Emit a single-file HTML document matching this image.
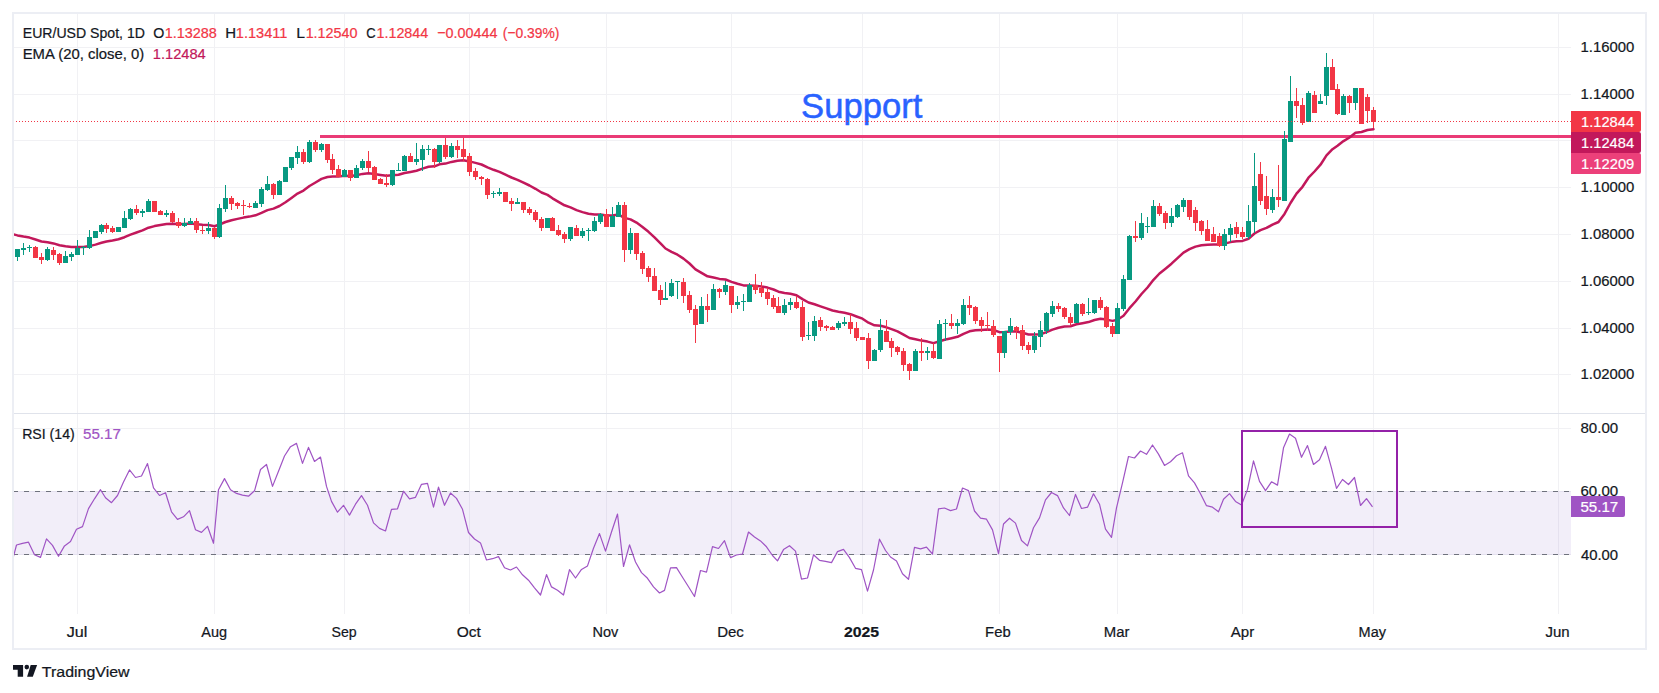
<!DOCTYPE html><html><head><meta charset="utf-8"><title>EUR/USD chart</title><style>html,body{margin:0;padding:0;background:#fff}svg{display:block}</style></head><body><svg width="1659" height="693" viewBox="0 0 1659 693" font-family='"Liberation Sans", sans-serif'>
<rect width="1659" height="693" fill="#fff"/>
<g shape-rendering="crispEdges"><rect x="77" y="14" width="1" height="600" fill="#f1f1f4"/><rect x="214" y="14" width="1" height="600" fill="#f1f1f4"/><rect x="344" y="14" width="1" height="600" fill="#f1f1f4"/><rect x="469" y="14" width="1" height="600" fill="#f1f1f4"/><rect x="606" y="14" width="1" height="600" fill="#f1f1f4"/><rect x="731" y="14" width="1" height="600" fill="#f1f1f4"/><rect x="862" y="14" width="1" height="600" fill="#f1f1f4"/><rect x="999" y="14" width="1" height="600" fill="#f1f1f4"/><rect x="1117" y="14" width="1" height="600" fill="#f1f1f4"/><rect x="1242" y="14" width="1" height="600" fill="#f1f1f4"/><rect x="1373" y="14" width="1" height="600" fill="#f1f1f4"/><rect x="1558" y="14" width="1" height="600" fill="#f1f1f4"/><rect x="14" y="47" width="1557" height="1" fill="#f1f1f4"/><rect x="14" y="94" width="1557" height="1" fill="#f1f1f4"/><rect x="14" y="140" width="1557" height="1" fill="#f1f1f4"/><rect x="14" y="187" width="1557" height="1" fill="#f1f1f4"/><rect x="14" y="234" width="1557" height="1" fill="#f1f1f4"/><rect x="14" y="281" width="1557" height="1" fill="#f1f1f4"/><rect x="14" y="328" width="1557" height="1" fill="#f1f1f4"/><rect x="14" y="374" width="1557" height="1" fill="#f1f1f4"/><rect x="14" y="428" width="1557" height="1" fill="#f1f1f4"/><rect x="14" y="491" width="1557" height="1" fill="#f1f1f4"/><rect x="14" y="554" width="1557" height="1" fill="#f1f1f4"/></g>
<rect x="14" y="491" width="1557" height="64" fill="#7e57c2" fill-opacity="0.1"/>
 <line x1="13" y1="491.5" x2="1571" y2="491.5" stroke="#6f727d" stroke-width="1" stroke-dasharray="5 6" shape-rendering="crispEdges"/>
 <line x1="13" y1="554.5" x2="1571" y2="554.5" stroke="#6f727d" stroke-width="1" stroke-dasharray="5 6" shape-rendering="crispEdges"/>
<rect x="14" y="413" width="1631" height="1" fill="#e0e3eb" shape-rendering="crispEdges"/>
<defs><clipPath id="cp"><rect x="14" y="14" width="1557" height="600"/></clipPath></defs>
<g clip-path="url(#cp)">
<rect x="320" y="135" width="1251" height="3" fill="#ea3b76"/>
<polyline fill="none" stroke="#c2185b" stroke-width="2.5" stroke-linejoin="round" stroke-linecap="round" points="11.5,234.0 17.5,235.4 23.5,236.6 29.5,237.6 35.5,239.5 41.5,241.5 47.5,242.2 53.5,243.4 59.5,245.2 65.5,246.3 71.5,247.0 77.5,247.1 83.5,247.0 89.5,246.1 95.5,244.6 101.5,242.8 106.5,241.5 112.5,240.5 118.5,239.2 124.5,237.2 130.5,234.6 136.5,232.5 142.5,230.4 148.5,227.7 154.5,226.1 160.5,225.1 166.5,224.0 172.5,223.8 178.5,224.0 184.5,223.9 190.5,223.6 196.5,224.2 202.5,224.8 208.5,225.1 214.5,226.2 219.5,224.5 225.5,222.0 231.5,220.2 237.5,218.9 243.5,217.6 249.5,216.6 255.5,215.3 261.5,212.8 267.5,210.1 273.5,208.6 279.5,206.0 285.5,202.3 291.5,198.0 297.5,193.6 303.5,190.6 309.5,186.0 315.5,182.5 321.5,178.9 327.5,177.0 332.5,176.4 338.5,176.4 344.5,175.8 350.5,176.0 356.5,175.2 362.5,173.9 368.5,173.3 374.5,173.9 380.5,174.9 386.5,175.8 392.5,175.2 398.5,174.8 404.5,173.0 410.5,171.9 416.5,170.7 422.5,168.6 428.5,166.8 434.5,166.3 439.5,164.3 445.5,163.6 451.5,161.9 457.5,160.7 463.5,160.3 469.5,161.4 475.5,162.9 481.5,164.5 487.5,167.4 493.5,169.8 499.5,171.9 505.5,174.7 511.5,177.5 517.5,179.8 523.5,182.7 529.5,185.5 535.5,188.8 541.5,192.5 547.5,194.9 552.5,198.3 558.5,201.8 564.5,205.3 570.5,207.4 576.5,210.1 582.5,212.1 588.5,213.8 594.5,214.5 600.5,214.4 606.5,215.6 612.5,215.6 618.5,214.6 624.5,217.9 630.5,219.4 636.5,222.6 642.5,227.0 648.5,231.8 654.5,237.4 660.5,243.3 665.5,248.5 671.5,251.8 677.5,254.7 683.5,258.6 689.5,263.5 695.5,269.3 701.5,272.8 707.5,276.3 713.5,277.5 719.5,278.9 725.5,279.5 731.5,281.9 737.5,283.8 743.5,285.4 749.5,285.4 755.5,285.8 761.5,286.5 767.5,287.6 773.5,289.5 778.5,291.7 784.5,293.0 790.5,293.8 796.5,295.2 802.5,299.1 808.5,302.5 814.5,304.3 820.5,306.4 826.5,308.4 832.5,310.5 838.5,311.7 844.5,312.7 850.5,314.2 856.5,316.5 862.5,318.7 868.5,322.7 874.5,325.3 880.5,325.7 886.5,327.3 891.5,329.2 897.5,331.4 903.5,334.6 909.5,338.0 915.5,339.3 921.5,340.6 927.5,341.6 933.5,343.1 939.5,341.3 945.5,339.5 951.5,338.2 957.5,336.8 963.5,333.8 969.5,331.3 975.5,330.3 981.5,329.9 987.5,329.5 993.5,330.0 999.5,332.2 1004.5,332.1 1010.5,331.5 1016.5,331.5 1022.5,332.8 1028.5,334.5 1034.5,334.6 1040.5,334.2 1046.5,332.1 1052.5,329.6 1058.5,327.7 1064.5,326.6 1070.5,326.3 1076.5,324.2 1082.5,323.2 1088.5,322.1 1094.5,320.0 1100.5,318.8 1106.5,319.6 1112.5,320.9 1117.5,319.7 1123.5,315.8 1129.5,308.2 1135.5,301.5 1141.5,294.0 1147.5,287.5 1153.5,279.8 1159.5,273.5 1165.5,268.7 1171.5,263.7 1177.5,258.1 1183.5,252.6 1189.5,249.2 1195.5,246.6 1201.5,245.2 1207.5,244.7 1213.5,244.5 1219.5,244.6 1224.5,243.6 1230.5,242.1 1236.5,241.3 1242.5,240.9 1248.5,238.8 1254.5,233.5 1260.5,230.2 1266.5,227.9 1272.5,224.7 1278.5,222.0 1284.5,213.9 1290.5,203.0 1296.5,193.6 1302.5,186.8 1308.5,177.7 1314.5,171.5 1320.5,164.7 1326.5,155.4 1332.5,149.2 1337.5,145.8 1343.5,141.1 1349.5,137.5 1355.5,132.8 1361.5,132.0 1367.5,130.0 1373.5,129.2"/>
<g shape-rendering="crispEdges"><rect x="11" y="249" width="1" height="8" fill="#f23645"/><rect x="9" y="249" width="5" height="8" fill="#f23645"/><rect x="17" y="249" width="1" height="12" fill="#089981"/><rect x="15" y="249" width="5" height="8" fill="#089981"/><rect x="23" y="243" width="1" height="12" fill="#089981"/><rect x="21" y="248" width="5" height="2" fill="#089981"/><rect x="29" y="245" width="1" height="7" fill="#089981"/><rect x="27" y="247" width="5" height="1" fill="#089981"/><rect x="35" y="246" width="1" height="12" fill="#f23645"/><rect x="33" y="247" width="5" height="11" fill="#f23645"/><rect x="41" y="253" width="1" height="11" fill="#f23645"/><rect x="39" y="257" width="5" height="3" fill="#f23645"/><rect x="47" y="247" width="1" height="14" fill="#089981"/><rect x="45" y="249" width="5" height="11" fill="#089981"/><rect x="53" y="247" width="1" height="13" fill="#f23645"/><rect x="51" y="250" width="5" height="5" fill="#f23645"/><rect x="59" y="253" width="1" height="12" fill="#f23645"/><rect x="57" y="254" width="5" height="9" fill="#f23645"/><rect x="65" y="251" width="1" height="12" fill="#089981"/><rect x="63" y="256" width="5" height="7" fill="#089981"/><rect x="71" y="252" width="1" height="9" fill="#089981"/><rect x="69" y="254" width="5" height="3" fill="#089981"/><rect x="77" y="240" width="1" height="15" fill="#089981"/><rect x="75" y="248" width="5" height="7" fill="#089981"/><rect x="83" y="246" width="1" height="9" fill="#089981"/><rect x="81" y="247" width="5" height="1" fill="#089981"/><rect x="89" y="230" width="1" height="19" fill="#089981"/><rect x="87" y="237" width="5" height="11" fill="#089981"/><rect x="95" y="231" width="1" height="7" fill="#089981"/><rect x="93" y="231" width="5" height="7" fill="#089981"/><rect x="101" y="224" width="1" height="10" fill="#089981"/><rect x="99" y="225" width="5" height="7" fill="#089981"/><rect x="106" y="223" width="1" height="10" fill="#f23645"/><rect x="104" y="225" width="5" height="4" fill="#f23645"/><rect x="112" y="226" width="1" height="7" fill="#f23645"/><rect x="110" y="228" width="5" height="4" fill="#f23645"/><rect x="118" y="227" width="1" height="5" fill="#089981"/><rect x="116" y="227" width="5" height="5" fill="#089981"/><rect x="124" y="211" width="1" height="17" fill="#089981"/><rect x="122" y="218" width="5" height="10" fill="#089981"/><rect x="130" y="208" width="1" height="12" fill="#089981"/><rect x="128" y="209" width="5" height="10" fill="#089981"/><rect x="136" y="205" width="1" height="10" fill="#f23645"/><rect x="134" y="209" width="5" height="4" fill="#f23645"/><rect x="142" y="209" width="1" height="8" fill="#089981"/><rect x="140" y="211" width="5" height="2" fill="#089981"/><rect x="148" y="199" width="1" height="13" fill="#089981"/><rect x="146" y="201" width="5" height="11" fill="#089981"/><rect x="154" y="201" width="1" height="11" fill="#f23645"/><rect x="152" y="201" width="5" height="11" fill="#f23645"/><rect x="160" y="210" width="1" height="5" fill="#f23645"/><rect x="158" y="211" width="5" height="4" fill="#f23645"/><rect x="166" y="210" width="1" height="7" fill="#089981"/><rect x="164" y="213" width="5" height="2" fill="#089981"/><rect x="172" y="211" width="1" height="12" fill="#f23645"/><rect x="170" y="213" width="5" height="9" fill="#f23645"/><rect x="178" y="218" width="1" height="10" fill="#f23645"/><rect x="176" y="222" width="5" height="4" fill="#f23645"/><rect x="184" y="218" width="1" height="9" fill="#089981"/><rect x="182" y="223" width="5" height="3" fill="#089981"/><rect x="190" y="218" width="1" height="6" fill="#089981"/><rect x="188" y="221" width="5" height="3" fill="#089981"/><rect x="196" y="218" width="1" height="15" fill="#f23645"/><rect x="194" y="221" width="5" height="9" fill="#f23645"/><rect x="202" y="226" width="1" height="8" fill="#f23645"/><rect x="200" y="230" width="5" height="1" fill="#f23645"/><rect x="208" y="222" width="1" height="12" fill="#089981"/><rect x="206" y="228" width="5" height="3" fill="#089981"/><rect x="214" y="227" width="1" height="12" fill="#f23645"/><rect x="212" y="228" width="5" height="9" fill="#f23645"/><rect x="219" y="204" width="1" height="34" fill="#089981"/><rect x="217" y="208" width="5" height="29" fill="#089981"/><rect x="225" y="185" width="1" height="27" fill="#089981"/><rect x="223" y="198" width="5" height="11" fill="#089981"/><rect x="231" y="196" width="1" height="14" fill="#f23645"/><rect x="229" y="198" width="5" height="6" fill="#f23645"/><rect x="237" y="202" width="1" height="7" fill="#f23645"/><rect x="235" y="203" width="5" height="3" fill="#f23645"/><rect x="243" y="200" width="1" height="15" fill="#f23645"/><rect x="241" y="205" width="5" height="1" fill="#f23645"/><rect x="249" y="203" width="1" height="5" fill="#f23645"/><rect x="247" y="206" width="5" height="1" fill="#f23645"/><rect x="255" y="201" width="1" height="7" fill="#089981"/><rect x="253" y="203" width="5" height="5" fill="#089981"/><rect x="261" y="187" width="1" height="20" fill="#089981"/><rect x="259" y="189" width="5" height="15" fill="#089981"/><rect x="267" y="176" width="1" height="15" fill="#089981"/><rect x="265" y="184" width="5" height="6" fill="#089981"/><rect x="273" y="183" width="1" height="16" fill="#f23645"/><rect x="271" y="184" width="5" height="11" fill="#f23645"/><rect x="279" y="180" width="1" height="15" fill="#089981"/><rect x="277" y="181" width="5" height="14" fill="#089981"/><rect x="285" y="167" width="1" height="15" fill="#089981"/><rect x="283" y="167" width="5" height="15" fill="#089981"/><rect x="291" y="157" width="1" height="13" fill="#089981"/><rect x="289" y="157" width="5" height="11" fill="#089981"/><rect x="297" y="146" width="1" height="18" fill="#089981"/><rect x="295" y="152" width="5" height="6" fill="#089981"/><rect x="303" y="149" width="1" height="15" fill="#f23645"/><rect x="301" y="152" width="5" height="10" fill="#f23645"/><rect x="309" y="140" width="1" height="23" fill="#089981"/><rect x="307" y="142" width="5" height="20" fill="#089981"/><rect x="315" y="140" width="1" height="12" fill="#f23645"/><rect x="313" y="142" width="5" height="8" fill="#f23645"/><rect x="321" y="143" width="1" height="9" fill="#089981"/><rect x="319" y="144" width="5" height="6" fill="#089981"/><rect x="327" y="144" width="1" height="19" fill="#f23645"/><rect x="325" y="144" width="5" height="16" fill="#f23645"/><rect x="332" y="154" width="1" height="20" fill="#f23645"/><rect x="330" y="159" width="5" height="11" fill="#f23645"/><rect x="338" y="165" width="1" height="12" fill="#f23645"/><rect x="336" y="169" width="5" height="8" fill="#f23645"/><rect x="344" y="169" width="1" height="8" fill="#089981"/><rect x="342" y="170" width="5" height="7" fill="#089981"/><rect x="350" y="170" width="1" height="11" fill="#f23645"/><rect x="348" y="170" width="5" height="8" fill="#f23645"/><rect x="356" y="165" width="1" height="13" fill="#089981"/><rect x="354" y="168" width="5" height="10" fill="#089981"/><rect x="362" y="159" width="1" height="11" fill="#089981"/><rect x="360" y="161" width="5" height="7" fill="#089981"/><rect x="368" y="151" width="1" height="21" fill="#f23645"/><rect x="366" y="161" width="5" height="7" fill="#f23645"/><rect x="374" y="166" width="1" height="14" fill="#f23645"/><rect x="372" y="167" width="5" height="13" fill="#f23645"/><rect x="380" y="178" width="1" height="6" fill="#f23645"/><rect x="378" y="179" width="5" height="5" fill="#f23645"/><rect x="386" y="174" width="1" height="13" fill="#f23645"/><rect x="384" y="183" width="5" height="2" fill="#f23645"/><rect x="392" y="170" width="1" height="16" fill="#089981"/><rect x="390" y="170" width="5" height="15" fill="#089981"/><rect x="398" y="163" width="1" height="8" fill="#089981"/><rect x="396" y="170" width="5" height="1" fill="#089981"/><rect x="404" y="155" width="1" height="16" fill="#089981"/><rect x="402" y="156" width="5" height="15" fill="#089981"/><rect x="410" y="153" width="1" height="9" fill="#f23645"/><rect x="408" y="156" width="5" height="6" fill="#f23645"/><rect x="416" y="143" width="1" height="22" fill="#089981"/><rect x="414" y="159" width="5" height="3" fill="#089981"/><rect x="422" y="145" width="1" height="26" fill="#089981"/><rect x="420" y="149" width="5" height="11" fill="#089981"/><rect x="428" y="145" width="1" height="10" fill="#089981"/><rect x="426" y="149" width="5" height="1" fill="#089981"/><rect x="434" y="148" width="1" height="20" fill="#f23645"/><rect x="432" y="149" width="5" height="13" fill="#f23645"/><rect x="439" y="145" width="1" height="18" fill="#089981"/><rect x="437" y="145" width="5" height="17" fill="#089981"/><rect x="445" y="138" width="1" height="21" fill="#f23645"/><rect x="443" y="145" width="5" height="12" fill="#f23645"/><rect x="451" y="143" width="1" height="15" fill="#089981"/><rect x="449" y="146" width="5" height="11" fill="#089981"/><rect x="457" y="140" width="1" height="18" fill="#f23645"/><rect x="455" y="146" width="5" height="4" fill="#f23645"/><rect x="463" y="138" width="1" height="23" fill="#f23645"/><rect x="461" y="149" width="5" height="8" fill="#f23645"/><rect x="469" y="153" width="1" height="23" fill="#f23645"/><rect x="467" y="156" width="5" height="16" fill="#f23645"/><rect x="475" y="168" width="1" height="12" fill="#f23645"/><rect x="473" y="171" width="5" height="6" fill="#f23645"/><rect x="481" y="176" width="1" height="9" fill="#f23645"/><rect x="479" y="177" width="5" height="2" fill="#f23645"/><rect x="487" y="178" width="1" height="21" fill="#f23645"/><rect x="485" y="179" width="5" height="16" fill="#f23645"/><rect x="493" y="191" width="1" height="7" fill="#089981"/><rect x="491" y="193" width="5" height="1" fill="#089981"/><rect x="499" y="188" width="1" height="8" fill="#089981"/><rect x="497" y="192" width="5" height="2" fill="#089981"/><rect x="505" y="192" width="1" height="10" fill="#f23645"/><rect x="503" y="192" width="5" height="10" fill="#f23645"/><rect x="511" y="198" width="1" height="13" fill="#f23645"/><rect x="509" y="201" width="5" height="3" fill="#f23645"/><rect x="517" y="198" width="1" height="6" fill="#089981"/><rect x="515" y="202" width="5" height="2" fill="#089981"/><rect x="523" y="202" width="1" height="11" fill="#f23645"/><rect x="521" y="202" width="5" height="8" fill="#f23645"/><rect x="529" y="207" width="1" height="8" fill="#f23645"/><rect x="527" y="209" width="5" height="4" fill="#f23645"/><rect x="535" y="210" width="1" height="12" fill="#f23645"/><rect x="533" y="212" width="5" height="8" fill="#f23645"/><rect x="541" y="217" width="1" height="14" fill="#f23645"/><rect x="539" y="219" width="5" height="9" fill="#f23645"/><rect x="547" y="218" width="1" height="10" fill="#089981"/><rect x="545" y="218" width="5" height="10" fill="#089981"/><rect x="552" y="217" width="1" height="14" fill="#f23645"/><rect x="550" y="218" width="5" height="13" fill="#f23645"/><rect x="558" y="225" width="1" height="11" fill="#f23645"/><rect x="556" y="230" width="5" height="5" fill="#f23645"/><rect x="564" y="232" width="1" height="11" fill="#f23645"/><rect x="562" y="234" width="5" height="5" fill="#f23645"/><rect x="570" y="227" width="1" height="14" fill="#089981"/><rect x="568" y="227" width="5" height="12" fill="#089981"/><rect x="576" y="225" width="1" height="11" fill="#f23645"/><rect x="574" y="228" width="5" height="8" fill="#f23645"/><rect x="582" y="228" width="1" height="10" fill="#089981"/><rect x="580" y="231" width="5" height="5" fill="#089981"/><rect x="588" y="228" width="1" height="13" fill="#089981"/><rect x="586" y="230" width="5" height="1" fill="#089981"/><rect x="594" y="217" width="1" height="15" fill="#089981"/><rect x="592" y="221" width="5" height="10" fill="#089981"/><rect x="600" y="213" width="1" height="11" fill="#089981"/><rect x="598" y="214" width="5" height="8" fill="#089981"/><rect x="606" y="209" width="1" height="18" fill="#f23645"/><rect x="604" y="214" width="5" height="13" fill="#f23645"/><rect x="612" y="207" width="1" height="20" fill="#089981"/><rect x="610" y="216" width="5" height="11" fill="#089981"/><rect x="618" y="202" width="1" height="15" fill="#089981"/><rect x="616" y="205" width="5" height="12" fill="#089981"/><rect x="624" y="202" width="1" height="60" fill="#f23645"/><rect x="622" y="205" width="5" height="45" fill="#f23645"/><rect x="630" y="228" width="1" height="26" fill="#089981"/><rect x="628" y="233" width="5" height="17" fill="#089981"/><rect x="636" y="233" width="1" height="27" fill="#f23645"/><rect x="634" y="233" width="5" height="21" fill="#f23645"/><rect x="642" y="251" width="1" height="23" fill="#f23645"/><rect x="640" y="253" width="5" height="16" fill="#f23645"/><rect x="648" y="266" width="1" height="16" fill="#f23645"/><rect x="646" y="268" width="5" height="9" fill="#f23645"/><rect x="654" y="268" width="1" height="23" fill="#f23645"/><rect x="652" y="276" width="5" height="15" fill="#f23645"/><rect x="660" y="285" width="1" height="20" fill="#f23645"/><rect x="658" y="290" width="5" height="10" fill="#f23645"/><rect x="665" y="282" width="1" height="18" fill="#089981"/><rect x="663" y="298" width="5" height="2" fill="#089981"/><rect x="671" y="279" width="1" height="18" fill="#089981"/><rect x="669" y="283" width="5" height="13" fill="#089981"/><rect x="677" y="281" width="1" height="18" fill="#089981"/><rect x="675" y="281" width="5" height="1" fill="#089981"/><rect x="683" y="278" width="1" height="25" fill="#f23645"/><rect x="681" y="282" width="5" height="14" fill="#f23645"/><rect x="689" y="291" width="1" height="22" fill="#f23645"/><rect x="687" y="295" width="5" height="15" fill="#f23645"/><rect x="695" y="305" width="1" height="38" fill="#f23645"/><rect x="693" y="309" width="5" height="16" fill="#f23645"/><rect x="701" y="297" width="1" height="27" fill="#089981"/><rect x="699" y="306" width="5" height="18" fill="#089981"/><rect x="707" y="294" width="1" height="28" fill="#f23645"/><rect x="705" y="306" width="5" height="4" fill="#f23645"/><rect x="713" y="284" width="1" height="26" fill="#089981"/><rect x="711" y="289" width="5" height="21" fill="#089981"/><rect x="719" y="288" width="1" height="10" fill="#f23645"/><rect x="717" y="289" width="5" height="3" fill="#f23645"/><rect x="725" y="281" width="1" height="14" fill="#089981"/><rect x="723" y="285" width="5" height="7" fill="#089981"/><rect x="731" y="286" width="1" height="27" fill="#f23645"/><rect x="729" y="286" width="5" height="19" fill="#f23645"/><rect x="737" y="296" width="1" height="13" fill="#089981"/><rect x="735" y="302" width="5" height="3" fill="#089981"/><rect x="743" y="294" width="1" height="17" fill="#089981"/><rect x="741" y="301" width="5" height="1" fill="#089981"/><rect x="749" y="283" width="1" height="19" fill="#089981"/><rect x="747" y="285" width="5" height="17" fill="#089981"/><rect x="755" y="274" width="1" height="20" fill="#f23645"/><rect x="753" y="285" width="5" height="5" fill="#f23645"/><rect x="761" y="282" width="1" height="15" fill="#f23645"/><rect x="759" y="288" width="5" height="5" fill="#f23645"/><rect x="767" y="288" width="1" height="17" fill="#f23645"/><rect x="765" y="292" width="5" height="7" fill="#f23645"/><rect x="773" y="295" width="1" height="14" fill="#f23645"/><rect x="771" y="298" width="5" height="9" fill="#f23645"/><rect x="778" y="297" width="1" height="16" fill="#f23645"/><rect x="776" y="306" width="5" height="7" fill="#f23645"/><rect x="784" y="299" width="1" height="16" fill="#089981"/><rect x="782" y="305" width="5" height="8" fill="#089981"/><rect x="790" y="298" width="1" height="12" fill="#089981"/><rect x="788" y="302" width="5" height="3" fill="#089981"/><rect x="796" y="296" width="1" height="13" fill="#f23645"/><rect x="794" y="302" width="5" height="6" fill="#f23645"/><rect x="802" y="301" width="1" height="40" fill="#f23645"/><rect x="800" y="307" width="5" height="30" fill="#f23645"/><rect x="808" y="322" width="1" height="18" fill="#089981"/><rect x="806" y="335" width="5" height="1" fill="#089981"/><rect x="814" y="316" width="1" height="25" fill="#089981"/><rect x="812" y="321" width="5" height="15" fill="#089981"/><rect x="820" y="317" width="1" height="14" fill="#f23645"/><rect x="818" y="320" width="5" height="7" fill="#f23645"/><rect x="826" y="325" width="1" height="6" fill="#f23645"/><rect x="824" y="326" width="5" height="2" fill="#f23645"/><rect x="832" y="326" width="1" height="4" fill="#f23645"/><rect x="830" y="327" width="5" height="3" fill="#f23645"/><rect x="838" y="321" width="1" height="9" fill="#089981"/><rect x="836" y="323" width="5" height="5" fill="#089981"/><rect x="844" y="317" width="1" height="9" fill="#089981"/><rect x="842" y="322" width="5" height="2" fill="#089981"/><rect x="850" y="314" width="1" height="20" fill="#f23645"/><rect x="848" y="322" width="5" height="7" fill="#f23645"/><rect x="856" y="322" width="1" height="19" fill="#f23645"/><rect x="854" y="328" width="5" height="10" fill="#f23645"/><rect x="862" y="337" width="1" height="3" fill="#f23645"/><rect x="860" y="337" width="5" height="3" fill="#f23645"/><rect x="868" y="333" width="1" height="36" fill="#f23645"/><rect x="866" y="338" width="5" height="23" fill="#f23645"/><rect x="874" y="349" width="1" height="12" fill="#089981"/><rect x="872" y="350" width="5" height="11" fill="#089981"/><rect x="880" y="319" width="1" height="33" fill="#089981"/><rect x="878" y="330" width="5" height="20" fill="#089981"/><rect x="886" y="320" width="1" height="22" fill="#f23645"/><rect x="884" y="331" width="5" height="11" fill="#f23645"/><rect x="891" y="338" width="1" height="19" fill="#f23645"/><rect x="889" y="341" width="5" height="7" fill="#f23645"/><rect x="897" y="346" width="1" height="9" fill="#f23645"/><rect x="895" y="347" width="5" height="5" fill="#f23645"/><rect x="903" y="348" width="1" height="23" fill="#f23645"/><rect x="901" y="351" width="5" height="14" fill="#f23645"/><rect x="909" y="363" width="1" height="17" fill="#f23645"/><rect x="907" y="364" width="5" height="7" fill="#f23645"/><rect x="915" y="349" width="1" height="22" fill="#089981"/><rect x="913" y="351" width="5" height="20" fill="#089981"/><rect x="921" y="338" width="1" height="23" fill="#f23645"/><rect x="919" y="351" width="5" height="2" fill="#f23645"/><rect x="927" y="347" width="1" height="13" fill="#089981"/><rect x="925" y="351" width="5" height="2" fill="#089981"/><rect x="933" y="343" width="1" height="16" fill="#f23645"/><rect x="931" y="351" width="5" height="7" fill="#f23645"/><rect x="939" y="320" width="1" height="39" fill="#089981"/><rect x="937" y="324" width="5" height="35" fill="#089981"/><rect x="945" y="319" width="1" height="22" fill="#089981"/><rect x="943" y="323" width="5" height="1" fill="#089981"/><rect x="951" y="314" width="1" height="15" fill="#f23645"/><rect x="949" y="323" width="5" height="3" fill="#f23645"/><rect x="957" y="319" width="1" height="15" fill="#089981"/><rect x="955" y="323" width="5" height="3" fill="#089981"/><rect x="963" y="299" width="1" height="26" fill="#089981"/><rect x="961" y="305" width="5" height="19" fill="#089981"/><rect x="969" y="296" width="1" height="19" fill="#f23645"/><rect x="967" y="305" width="5" height="3" fill="#f23645"/><rect x="975" y="306" width="1" height="18" fill="#f23645"/><rect x="973" y="307" width="5" height="14" fill="#f23645"/><rect x="981" y="317" width="1" height="15" fill="#f23645"/><rect x="979" y="320" width="5" height="6" fill="#f23645"/><rect x="987" y="312" width="1" height="19" fill="#f23645"/><rect x="985" y="325" width="5" height="1" fill="#f23645"/><rect x="993" y="320" width="1" height="17" fill="#f23645"/><rect x="991" y="326" width="5" height="9" fill="#f23645"/><rect x="999" y="336" width="1" height="36" fill="#f23645"/><rect x="997" y="336" width="5" height="17" fill="#f23645"/><rect x="1004" y="331" width="1" height="27" fill="#089981"/><rect x="1002" y="331" width="5" height="22" fill="#089981"/><rect x="1010" y="318" width="1" height="17" fill="#089981"/><rect x="1008" y="326" width="5" height="6" fill="#089981"/><rect x="1016" y="326" width="1" height="13" fill="#f23645"/><rect x="1014" y="327" width="5" height="4" fill="#f23645"/><rect x="1022" y="325" width="1" height="25" fill="#f23645"/><rect x="1020" y="330" width="5" height="16" fill="#f23645"/><rect x="1028" y="342" width="1" height="12" fill="#f23645"/><rect x="1026" y="345" width="5" height="5" fill="#f23645"/><rect x="1034" y="332" width="1" height="21" fill="#089981"/><rect x="1032" y="336" width="5" height="14" fill="#089981"/><rect x="1040" y="321" width="1" height="26" fill="#089981"/><rect x="1038" y="330" width="5" height="7" fill="#089981"/><rect x="1046" y="312" width="1" height="22" fill="#089981"/><rect x="1044" y="313" width="5" height="18" fill="#089981"/><rect x="1052" y="301" width="1" height="16" fill="#089981"/><rect x="1050" y="306" width="5" height="8" fill="#089981"/><rect x="1058" y="303" width="1" height="9" fill="#f23645"/><rect x="1056" y="306" width="5" height="3" fill="#f23645"/><rect x="1064" y="307" width="1" height="12" fill="#f23645"/><rect x="1062" y="308" width="5" height="9" fill="#f23645"/><rect x="1070" y="313" width="1" height="13" fill="#f23645"/><rect x="1068" y="317" width="5" height="6" fill="#f23645"/><rect x="1076" y="303" width="1" height="20" fill="#089981"/><rect x="1074" y="304" width="5" height="19" fill="#089981"/><rect x="1082" y="303" width="1" height="13" fill="#f23645"/><rect x="1080" y="304" width="5" height="10" fill="#f23645"/><rect x="1088" y="298" width="1" height="17" fill="#089981"/><rect x="1086" y="312" width="5" height="1" fill="#089981"/><rect x="1094" y="300" width="1" height="14" fill="#089981"/><rect x="1092" y="300" width="5" height="13" fill="#089981"/><rect x="1100" y="297" width="1" height="13" fill="#f23645"/><rect x="1098" y="300" width="5" height="8" fill="#f23645"/><rect x="1106" y="306" width="1" height="22" fill="#f23645"/><rect x="1104" y="307" width="5" height="20" fill="#f23645"/><rect x="1112" y="323" width="1" height="14" fill="#f23645"/><rect x="1110" y="326" width="5" height="8" fill="#f23645"/><rect x="1117" y="303" width="1" height="31" fill="#089981"/><rect x="1115" y="308" width="5" height="26" fill="#089981"/><rect x="1123" y="275" width="1" height="36" fill="#089981"/><rect x="1121" y="279" width="5" height="30" fill="#089981"/><rect x="1129" y="235" width="1" height="45" fill="#089981"/><rect x="1127" y="236" width="5" height="44" fill="#089981"/><rect x="1135" y="221" width="1" height="21" fill="#f23645"/><rect x="1133" y="236" width="5" height="2" fill="#f23645"/><rect x="1141" y="213" width="1" height="27" fill="#089981"/><rect x="1139" y="223" width="5" height="15" fill="#089981"/><rect x="1147" y="217" width="1" height="16" fill="#089981"/><rect x="1145" y="226" width="5" height="1" fill="#089981"/><rect x="1153" y="200" width="1" height="27" fill="#089981"/><rect x="1151" y="206" width="5" height="21" fill="#089981"/><rect x="1159" y="203" width="1" height="13" fill="#f23645"/><rect x="1157" y="206" width="5" height="8" fill="#f23645"/><rect x="1165" y="211" width="1" height="18" fill="#f23645"/><rect x="1163" y="213" width="5" height="10" fill="#f23645"/><rect x="1171" y="208" width="1" height="19" fill="#089981"/><rect x="1169" y="216" width="5" height="7" fill="#089981"/><rect x="1177" y="204" width="1" height="14" fill="#089981"/><rect x="1175" y="205" width="5" height="12" fill="#089981"/><rect x="1183" y="198" width="1" height="14" fill="#089981"/><rect x="1181" y="200" width="5" height="7" fill="#089981"/><rect x="1189" y="200" width="1" height="20" fill="#f23645"/><rect x="1187" y="200" width="5" height="17" fill="#f23645"/><rect x="1195" y="207" width="1" height="24" fill="#f23645"/><rect x="1193" y="210" width="5" height="13" fill="#f23645"/><rect x="1201" y="220" width="1" height="15" fill="#f23645"/><rect x="1199" y="221" width="5" height="10" fill="#f23645"/><rect x="1207" y="220" width="1" height="21" fill="#f23645"/><rect x="1205" y="229" width="5" height="12" fill="#f23645"/><rect x="1213" y="227" width="1" height="15" fill="#f23645"/><rect x="1211" y="234" width="5" height="8" fill="#f23645"/><rect x="1219" y="233" width="1" height="14" fill="#f23645"/><rect x="1217" y="236" width="5" height="10" fill="#f23645"/><rect x="1224" y="229" width="1" height="21" fill="#089981"/><rect x="1222" y="234" width="5" height="12" fill="#089981"/><rect x="1230" y="224" width="1" height="18" fill="#089981"/><rect x="1228" y="228" width="5" height="7" fill="#089981"/><rect x="1236" y="222" width="1" height="16" fill="#f23645"/><rect x="1234" y="227" width="5" height="7" fill="#f23645"/><rect x="1242" y="227" width="1" height="12" fill="#f23645"/><rect x="1240" y="232" width="5" height="5" fill="#f23645"/><rect x="1248" y="205" width="1" height="34" fill="#089981"/><rect x="1246" y="221" width="5" height="16" fill="#089981"/><rect x="1254" y="153" width="1" height="80" fill="#089981"/><rect x="1252" y="186" width="5" height="36" fill="#089981"/><rect x="1260" y="162" width="1" height="43" fill="#f23645"/><rect x="1258" y="174" width="5" height="27" fill="#f23645"/><rect x="1266" y="176" width="1" height="39" fill="#f23645"/><rect x="1264" y="196" width="5" height="13" fill="#f23645"/><rect x="1272" y="189" width="1" height="24" fill="#089981"/><rect x="1270" y="197" width="5" height="13" fill="#089981"/><rect x="1278" y="165" width="1" height="42" fill="#f23645"/><rect x="1276" y="197" width="5" height="3" fill="#f23645"/><rect x="1284" y="131" width="1" height="70" fill="#089981"/><rect x="1282" y="139" width="5" height="62" fill="#089981"/><rect x="1290" y="76" width="1" height="66" fill="#089981"/><rect x="1288" y="101" width="5" height="41" fill="#089981"/><rect x="1296" y="88" width="1" height="30" fill="#f23645"/><rect x="1294" y="101" width="5" height="5" fill="#f23645"/><rect x="1302" y="98" width="1" height="27" fill="#f23645"/><rect x="1300" y="105" width="5" height="18" fill="#f23645"/><rect x="1308" y="91" width="1" height="31" fill="#089981"/><rect x="1306" y="93" width="5" height="29" fill="#089981"/><rect x="1314" y="91" width="1" height="22" fill="#f23645"/><rect x="1312" y="95" width="5" height="18" fill="#f23645"/><rect x="1320" y="94" width="1" height="10" fill="#089981"/><rect x="1318" y="101" width="5" height="3" fill="#089981"/><rect x="1326" y="53" width="1" height="52" fill="#089981"/><rect x="1324" y="67" width="5" height="29" fill="#089981"/><rect x="1332" y="59" width="1" height="31" fill="#f23645"/><rect x="1330" y="67" width="5" height="23" fill="#f23645"/><rect x="1337" y="84" width="1" height="31" fill="#f23645"/><rect x="1335" y="89" width="5" height="25" fill="#f23645"/><rect x="1343" y="94" width="1" height="21" fill="#089981"/><rect x="1341" y="96" width="5" height="19" fill="#089981"/><rect x="1349" y="95" width="1" height="18" fill="#f23645"/><rect x="1347" y="96" width="5" height="7" fill="#f23645"/><rect x="1355" y="88" width="1" height="22" fill="#089981"/><rect x="1353" y="88" width="5" height="15" fill="#089981"/><rect x="1361" y="88" width="1" height="36" fill="#f23645"/><rect x="1359" y="88" width="5" height="36" fill="#f23645"/><rect x="1367" y="94" width="1" height="29" fill="#f23645"/><rect x="1365" y="97" width="5" height="14" fill="#f23645"/><rect x="1373" y="107" width="1" height="21" fill="#f23645"/><rect x="1371" y="110" width="5" height="12" fill="#f23645"/></g>
<polyline fill="none" stroke="#9f54c4" stroke-width="1.2" stroke-linejoin="round" points="10.5,567.8 16.5,545.0 22.5,543.3 28.5,542.2 34.5,554.8 40.5,557.4 46.5,538.9 52.5,545.4 58.5,556.3 64.5,545.9 70.5,541.5 76.5,529.2 82.5,526.6 88.5,508.6 94.5,498.8 100.5,489.7 105.5,497.7 111.5,502.7 117.5,495.5 123.5,481.9 129.5,469.9 135.5,477.5 141.5,476.0 147.5,463.6 153.5,487.9 159.5,495.5 165.5,492.7 171.5,511.8 177.5,519.4 183.5,516.8 189.5,510.7 195.5,529.8 201.5,532.4 207.5,526.3 213.5,543.3 218.5,489.7 224.5,478.6 230.5,489.7 236.5,493.4 242.5,495.1 248.5,496.2 254.5,490.8 260.5,469.5 266.5,464.5 272.5,486.4 278.5,471.2 284.5,456.0 290.5,446.7 296.5,443.4 302.5,463.4 308.5,447.4 314.5,461.5 320.5,457.1 326.5,486.4 331.5,501.4 337.5,512.2 343.5,505.3 349.5,515.1 355.5,504.2 361.5,495.6 367.5,505.3 373.5,522.9 379.5,528.4 385.5,531.0 391.5,509.3 397.5,508.8 403.5,491.2 409.5,498.8 415.5,497.3 421.5,484.3 427.5,483.4 433.5,507.1 438.5,487.1 444.5,505.3 450.5,493.0 456.5,498.4 462.5,509.3 468.5,532.5 474.5,539.0 480.5,542.9 486.5,560.0 492.5,558.7 498.5,556.6 504.5,567.8 510.5,570.0 516.5,567.0 522.5,574.8 528.5,580.2 534.5,587.8 540.5,595.0 546.5,574.6 551.5,586.9 557.5,590.2 563.5,595.0 569.5,569.6 575.5,578.0 581.5,569.4 587.5,565.9 593.5,548.3 599.5,533.6 605.5,551.1 611.5,532.0 617.5,514.0 623.5,566.5 629.5,544.8 635.5,562.0 641.5,572.6 647.5,578.3 653.5,586.9 659.5,593.0 664.5,590.4 670.5,567.8 676.5,567.6 682.5,577.2 688.5,586.7 694.5,596.5 700.5,570.5 706.5,572.2 712.5,546.6 718.5,548.5 724.5,540.7 730.5,557.6 736.5,555.0 742.5,554.0 748.5,532.0 754.5,537.0 760.5,540.9 766.5,546.8 772.5,555.5 777.5,560.9 783.5,549.6 789.5,545.7 795.5,551.1 801.5,579.1 807.5,578.0 813.5,554.8 819.5,560.3 825.5,561.3 831.5,562.6 837.5,551.6 843.5,549.4 849.5,557.6 855.5,568.3 861.5,569.6 867.5,591.1 873.5,570.0 879.5,539.2 885.5,550.5 890.5,557.0 896.5,561.1 902.5,573.7 908.5,579.3 914.5,547.4 920.5,548.8 926.5,547.2 932.5,554.0 938.5,508.8 944.5,508.0 950.5,510.6 956.5,509.0 962.5,488.0 968.5,490.6 974.5,511.0 980.5,518.2 986.5,519.2 992.5,529.9 998.5,553.7 1003.5,524.0 1009.5,518.2 1015.5,523.1 1021.5,540.5 1027.5,545.9 1033.5,527.7 1039.5,517.9 1045.5,499.9 1051.5,492.5 1057.5,495.6 1063.5,507.9 1069.5,515.5 1075.5,494.4 1081.5,508.5 1087.5,507.2 1093.5,493.8 1099.5,504.2 1105.5,529.2 1111.5,537.4 1116.5,507.9 1122.5,482.9 1128.5,456.5 1134.5,458.0 1140.5,451.0 1146.5,454.3 1152.5,445.0 1158.5,454.1 1164.5,465.4 1170.5,461.7 1176.5,455.8 1182.5,452.8 1188.5,475.8 1194.5,482.9 1200.5,493.8 1206.5,505.7 1212.5,507.2 1218.5,511.8 1223.5,499.2 1229.5,493.6 1235.5,501.4 1241.5,505.1 1247.5,489.4 1253.5,460.8 1259.5,481.4 1265.5,490.7 1271.5,481.8 1277.5,485.1 1283.5,447.8 1289.5,434.1 1295.5,438.2 1301.5,457.3 1307.5,445.6 1313.5,464.5 1319.5,459.7 1325.5,446.3 1331.5,468.2 1336.5,488.4 1342.5,479.5 1348.5,484.5 1354.5,477.5 1360.5,505.5 1366.5,498.6 1372.5,506.8"/>
<rect x="1242" y="431" width="155" height="96" fill="none" stroke="#9421a8" stroke-width="2"/>
</g>
<path d="M1571,111H1639a2,2 0 0 1 2,2V130a2,2 0 0 1 -2,2H1571Z" fill="#f23645"/>
<path d="M1571,132H1639a2,2 0 0 1 2,2V151a2,2 0 0 1 -2,2H1571Z" fill="#c2185b"/>
<path d="M1571,153H1639a2,2 0 0 1 2,2V172a2,2 0 0 1 -2,2H1571Z" fill="#ec407a"/>
<path d="M1571,496H1623a2,2 0 0 1 2,2V515a2,2 0 0 1 -2,2H1571Z" fill="#9f54c4"/>
<text x="22.76" y="38.0" font-size="15.42" fill="#131722" stroke="#131722" stroke-width="0.22" textLength="122.2" lengthAdjust="spacingAndGlyphs">EUR/USD Spot, 1D</text>
<text x="153.31" y="38.0" font-size="15.42" fill="#131722" stroke="#131722" stroke-width="0.22" textLength="11.07" lengthAdjust="spacingAndGlyphs">O</text>
<text x="164.73" y="38.0" font-size="15.42" fill="#f23645" stroke="#f23645" stroke-width="0.22" textLength="52.13" lengthAdjust="spacingAndGlyphs">1.13288</text>
<text x="225.29" y="38.0" font-size="15.42" fill="#131722" stroke="#131722" stroke-width="0.22" textLength="10.82" lengthAdjust="spacingAndGlyphs">H</text>
<text x="235.82" y="38.0" font-size="15.42" fill="#f23645" stroke="#f23645" stroke-width="0.22" textLength="51.64" lengthAdjust="spacingAndGlyphs">1.13411</text>
<text x="296.22" y="38.0" font-size="15.42" fill="#131722" stroke="#131722" stroke-width="0.22" textLength="8.77" lengthAdjust="spacingAndGlyphs">L</text>
<text x="305.63" y="38.0" font-size="15.42" fill="#f23645" stroke="#f23645" stroke-width="0.22" textLength="51.92" lengthAdjust="spacingAndGlyphs">1.12540</text>
<text x="366.17" y="38.0" font-size="15.42" fill="#131722" stroke="#131722" stroke-width="0.22" textLength="9.37" lengthAdjust="spacingAndGlyphs">C</text>
<text x="376.44" y="38.0" font-size="15.42" fill="#f23645" stroke="#f23645" stroke-width="0.22" textLength="51.89" lengthAdjust="spacingAndGlyphs">1.12844</text>
<text x="437.2" y="38.0" font-size="15.42" fill="#f23645" stroke="#f23645" stroke-width="0.22" textLength="60.21" lengthAdjust="spacingAndGlyphs">−0.00444</text>
<text x="502.8" y="38.0" font-size="15.42" fill="#f23645" stroke="#f23645" stroke-width="0.22" textLength="56.55" lengthAdjust="spacingAndGlyphs">(−0.39%)</text>
<text x="22.69" y="59.0" font-size="15.42" fill="#131722" stroke="#131722" stroke-width="0.22" textLength="121.45" lengthAdjust="spacingAndGlyphs">EMA (20, close, 0)</text>
<text x="152.81" y="59.0" font-size="15.42" fill="#c2185b" stroke="#c2185b" stroke-width="0.22" textLength="52.92" lengthAdjust="spacingAndGlyphs">1.12484</text>
<text x="22.14" y="438.9" font-size="15.27" fill="#131722" stroke="#131722" stroke-width="0.22" textLength="52.64" lengthAdjust="spacingAndGlyphs">RSI (14)</text>
<text x="82.96" y="438.9" font-size="15.27" fill="#9f54c4" stroke="#9f54c4" stroke-width="0.22" textLength="37.94" lengthAdjust="spacingAndGlyphs">55.17</text>
<text x="801.11" y="117.6" font-size="35.93" fill="#2962ff" stroke="#2962ff" stroke-width="0.5" textLength="121.3" lengthAdjust="spacingAndGlyphs">Support</text>
<text x="41.83" y="676.8" font-size="14.55" fill="#131722" stroke="#131722" stroke-width="0.22" textLength="87.74" lengthAdjust="spacingAndGlyphs">TradingView</text>
<text x="1580.5" y="52.1" font-size="15.56" fill="#131722" stroke="#131722" stroke-width="0.22" textLength="53.77" lengthAdjust="spacingAndGlyphs">1.16000</text>
<text x="1580.5" y="99.1" font-size="15.56" fill="#131722" stroke="#131722" stroke-width="0.22" textLength="53.77" lengthAdjust="spacingAndGlyphs">1.14000</text>
<text x="1580.5" y="192.1" font-size="15.56" fill="#131722" stroke="#131722" stroke-width="0.22" textLength="53.77" lengthAdjust="spacingAndGlyphs">1.10000</text>
<text x="1580.5" y="239.1" font-size="15.56" fill="#131722" stroke="#131722" stroke-width="0.22" textLength="53.77" lengthAdjust="spacingAndGlyphs">1.08000</text>
<text x="1580.5" y="286.1" font-size="15.56" fill="#131722" stroke="#131722" stroke-width="0.22" textLength="53.77" lengthAdjust="spacingAndGlyphs">1.06000</text>
<text x="1580.5" y="333.1" font-size="15.56" fill="#131722" stroke="#131722" stroke-width="0.22" textLength="53.77" lengthAdjust="spacingAndGlyphs">1.04000</text>
<text x="1580.5" y="379.1" font-size="15.56" fill="#131722" stroke="#131722" stroke-width="0.22" textLength="53.77" lengthAdjust="spacingAndGlyphs">1.02000</text>
<text x="1580.47" y="433.1" font-size="15.56" fill="#131722" stroke="#131722" stroke-width="0.22" textLength="37.66" lengthAdjust="spacingAndGlyphs">80.00</text>
<text x="1580.47" y="495.9" font-size="15.56" fill="#131722" stroke="#131722" stroke-width="0.22" textLength="37.66" lengthAdjust="spacingAndGlyphs">60.00</text>
<text x="1580.96" y="559.7" font-size="15.56" fill="#131722" stroke="#131722" stroke-width="0.22" textLength="37.17" lengthAdjust="spacingAndGlyphs">40.00</text>
<text x="1581.11" y="126.6" font-size="15.42" fill="#fff" stroke="#fff" stroke-width="0.22" textLength="52.92" lengthAdjust="spacingAndGlyphs">1.12844</text>
<text x="1581.11" y="147.7" font-size="15.42" fill="#fff" stroke="#fff" stroke-width="0.22" textLength="52.92" lengthAdjust="spacingAndGlyphs">1.12484</text>
<text x="1581.11" y="168.6" font-size="15.42" fill="#fff" stroke="#fff" stroke-width="0.22" textLength="53.16" lengthAdjust="spacingAndGlyphs">1.12209</text>
<text x="1580.46" y="511.7" font-size="15.42" fill="#fff" stroke="#fff" stroke-width="0.22" textLength="37.83" lengthAdjust="spacingAndGlyphs">55.17</text>
<text x="66.74" y="636.9" font-size="15.27" fill="#131722" stroke="#131722" stroke-width="0.22" textLength="20.64" lengthAdjust="spacingAndGlyphs">Jul</text>
<text x="201.3" y="636.9" font-size="15.27" fill="#131722" stroke="#131722" stroke-width="0.22" textLength="25.77" lengthAdjust="spacingAndGlyphs">Aug</text>
<text x="331.5" y="636.9" font-size="15.27" fill="#131722" stroke="#131722" stroke-width="0.22" textLength="25.22" lengthAdjust="spacingAndGlyphs">Sep</text>
<text x="456.74" y="636.9" font-size="15.27" fill="#131722" stroke="#131722" stroke-width="0.22" textLength="24.16" lengthAdjust="spacingAndGlyphs">Oct</text>
<text x="592.41" y="636.9" font-size="15.27" fill="#131722" stroke="#131722" stroke-width="0.22" textLength="25.84" lengthAdjust="spacingAndGlyphs">Nov</text>
<text x="717.17" y="636.9" font-size="15.27" fill="#131722" stroke="#131722" stroke-width="0.22" textLength="26.73" lengthAdjust="spacingAndGlyphs">Dec</text>
<text x="843.98" y="636.9" font-size="15.27" fill="#131722" stroke="#131722" stroke-width="0.22" font-weight="bold" textLength="35.2" lengthAdjust="spacingAndGlyphs">2025</text>
<text x="985.09" y="636.9" font-size="15.27" fill="#131722" stroke="#131722" stroke-width="0.22" textLength="25.56" lengthAdjust="spacingAndGlyphs">Feb</text>
<text x="1103.78" y="636.9" font-size="15.27" fill="#131722" stroke="#131722" stroke-width="0.22" textLength="25.71" lengthAdjust="spacingAndGlyphs">Mar</text>
<text x="1230.8" y="636.9" font-size="15.27" fill="#131722" stroke="#131722" stroke-width="0.22" textLength="23.46" lengthAdjust="spacingAndGlyphs">Apr</text>
<text x="1358.61" y="636.9" font-size="15.27" fill="#131722" stroke="#131722" stroke-width="0.22" textLength="27.38" lengthAdjust="spacingAndGlyphs">May</text>
<text x="1545.55" y="636.9" font-size="15.27" fill="#131722" stroke="#131722" stroke-width="0.22" textLength="24.15" lengthAdjust="spacingAndGlyphs">Jun</text>
<line x1="13" y1="121.5" x2="1571" y2="121.5" stroke="#f23645" stroke-width="1" stroke-dasharray="1 2" shape-rendering="crispEdges"/>
<rect x="13" y="13" width="1633" height="636" fill="none" stroke="#eceef4" stroke-width="2"/>
<g fill="#131722"><path d="M13,665H23.1V676.8H17.7V669.8H13Z"/><circle cx="26.8" cy="667.1" r="2.3"/><path d="M30.7,665H37.1L32.8,676.8H27.1Z"/></g>
</svg></body></html>
